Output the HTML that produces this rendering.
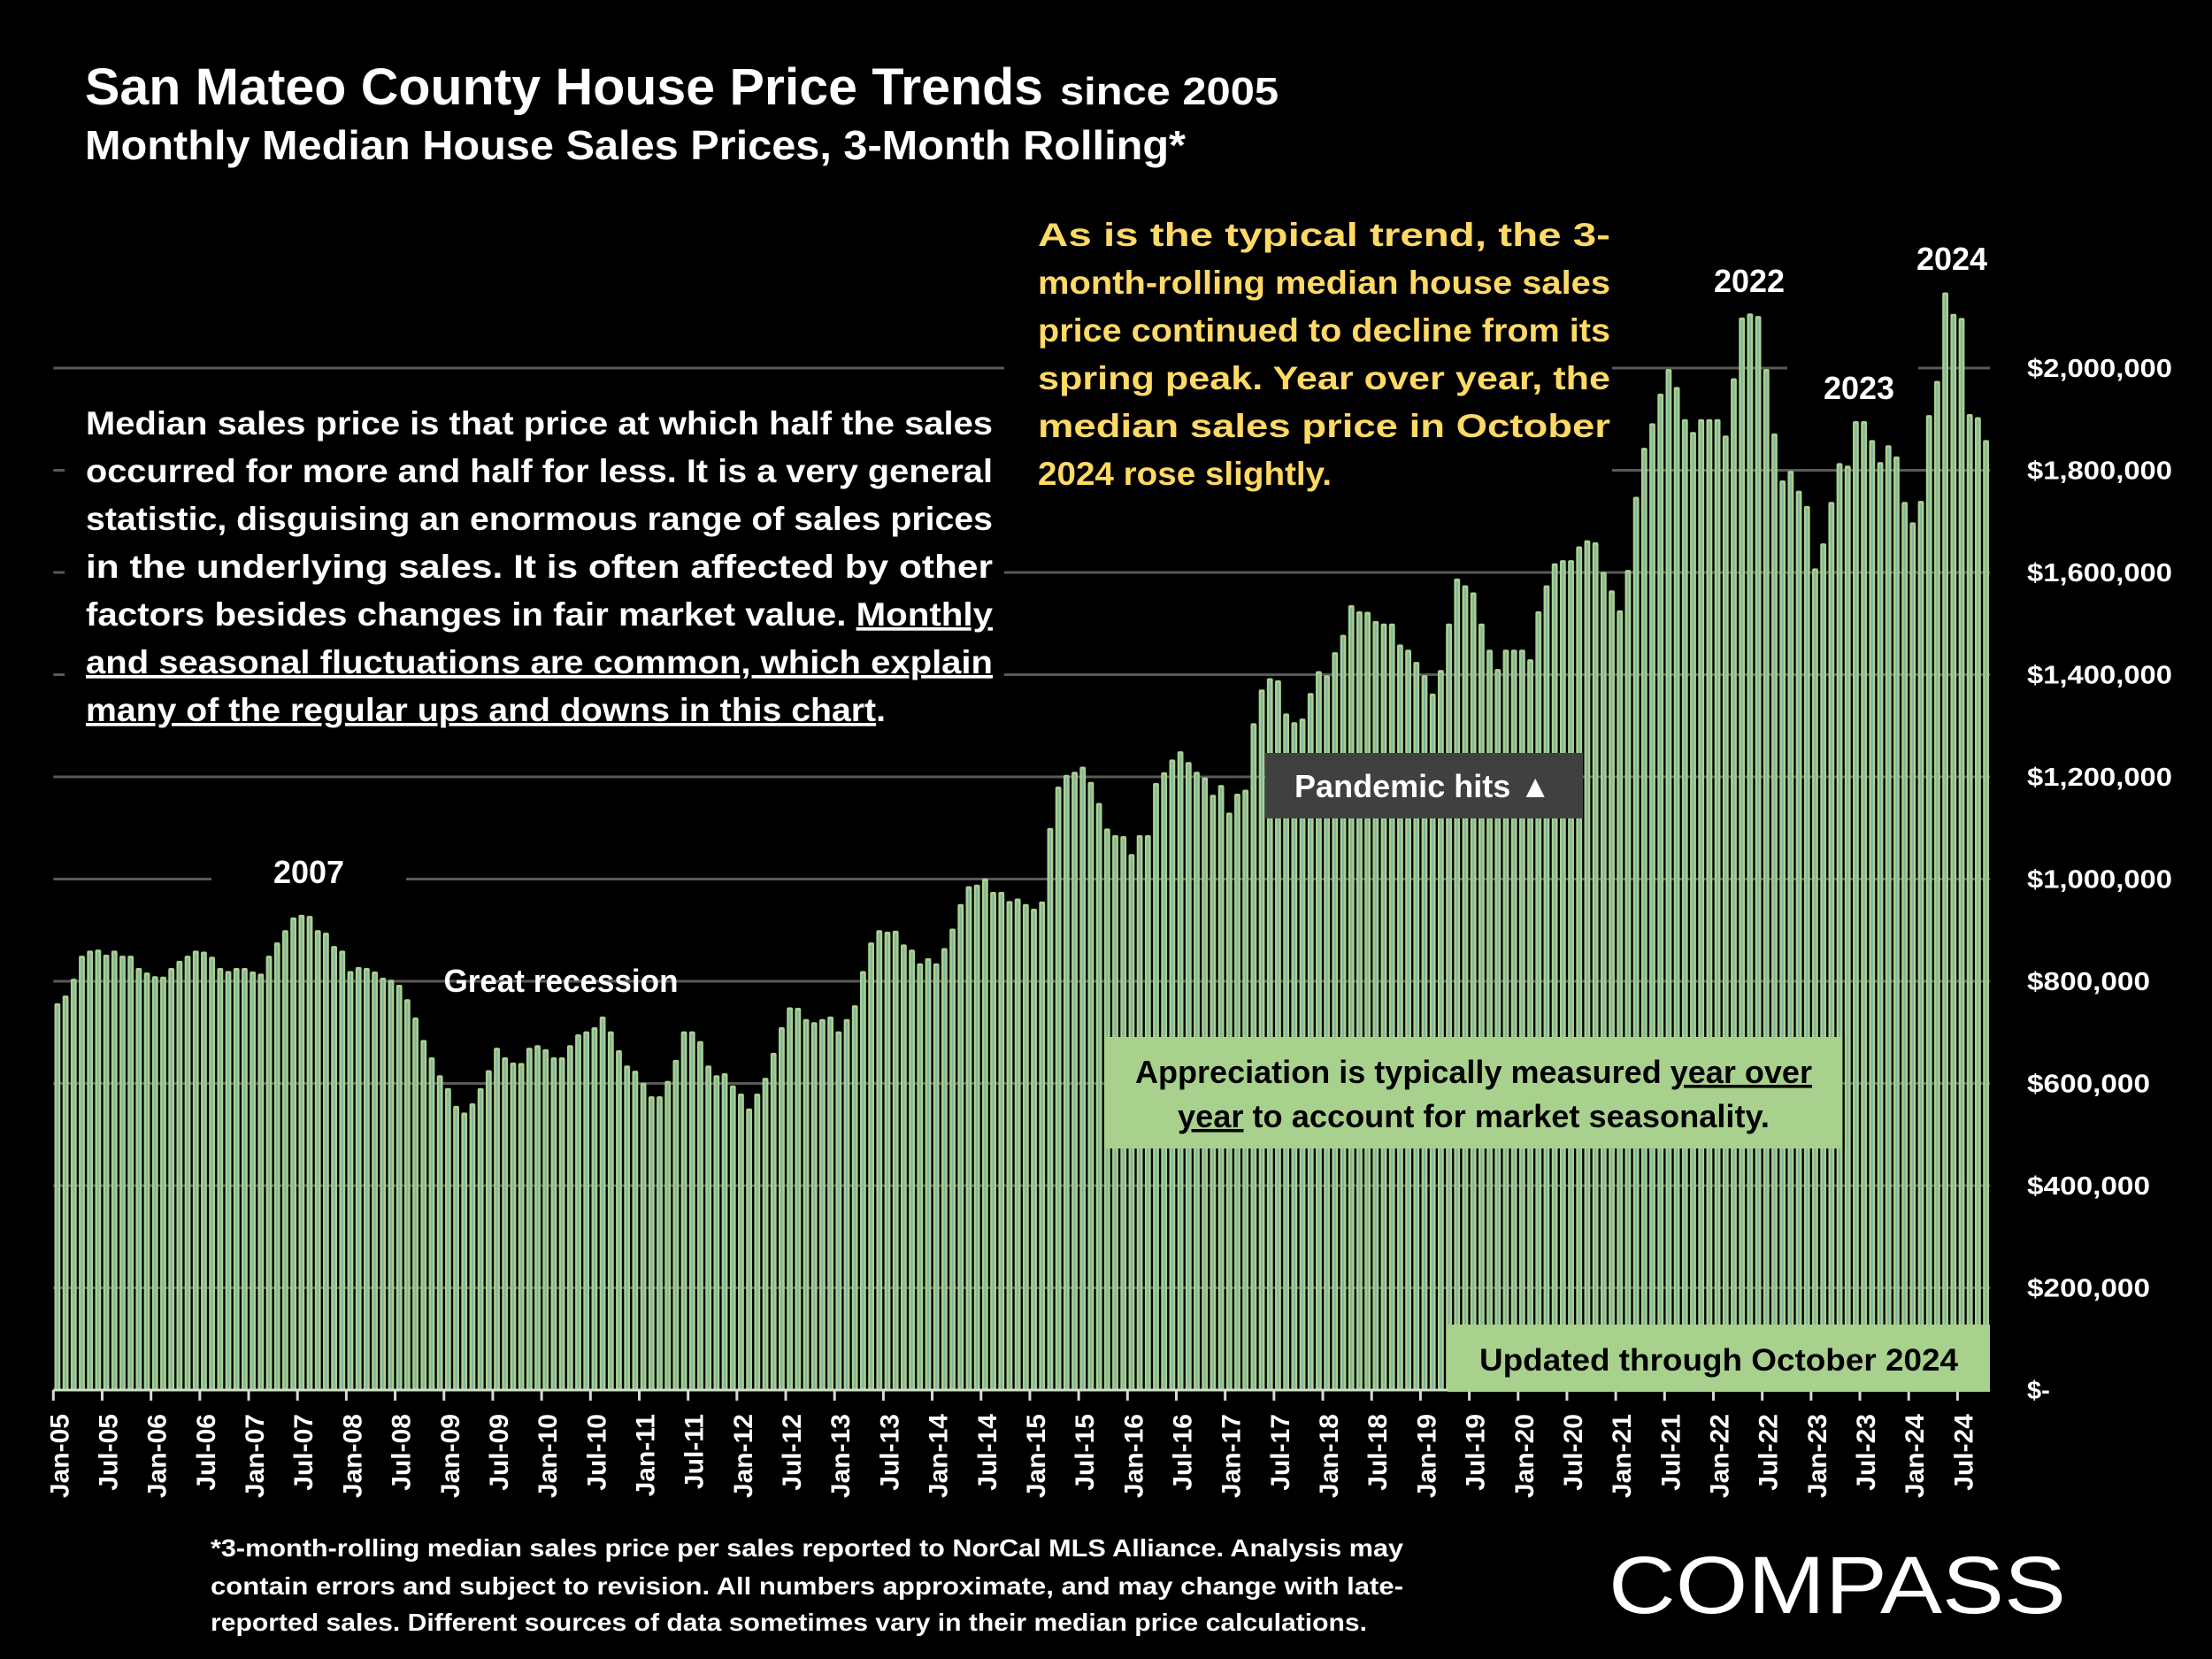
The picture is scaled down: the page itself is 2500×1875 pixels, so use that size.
<!DOCTYPE html>
<html><head><meta charset="utf-8"><style>
html,body{margin:0;padding:0;background:#000;}
svg{display:block;}
text{font-family:"Liberation Sans",sans-serif;font-weight:bold;}
</style></head><body>
<svg id="chart" width="2500" height="1875" viewBox="0 0 2500 1875" xmlns="http://www.w3.org/2000/svg">
<rect x="0" y="0" width="2500" height="1875" fill="#000"/>
<g id="grid"></g>
<g id="boxes">
  <rect x="73" y="445" width="1062" height="385" fill="#000"/>
  <rect x="1135" y="235" width="687" height="325" fill="#000"/>
  <rect x="239" y="955" width="220" height="60" fill="#000"/>
  <rect x="2020" y="400" width="148" height="75" fill="#000"/>
</g>
<g id="bars"></g>
<g id="xaxis"></g>
<g id="yaxis"></g>

<g>
  <text x="96" y="118" font-size="58" fill="#fff" textLength="1083" lengthAdjust="spacingAndGlyphs">San Mateo County House Price Trends</text>
  <text x="1198" y="118" font-size="44" fill="#fff" textLength="247" lengthAdjust="spacingAndGlyphs">since 2005</text>
  <text x="96" y="180" font-size="46" fill="#fff" textLength="1244" lengthAdjust="spacingAndGlyphs">Monthly Median House Sales Prices, 3-Month Rolling*</text>
</g>

<g font-size="37" fill="#fff">
  <text x="97" y="491" textLength="1025" lengthAdjust="spacingAndGlyphs">Median sales price is that price at which half the sales</text>
  <text x="97" y="545" textLength="1025" lengthAdjust="spacingAndGlyphs">occurred for more and half for less. It is a very general</text>
  <text x="97" y="599" textLength="1025" lengthAdjust="spacingAndGlyphs">statistic, disguising an enormous range of sales prices</text>
  <text x="97" y="653" textLength="1025" lengthAdjust="spacingAndGlyphs">in the underlying sales. It is often affected by other</text>
  <text x="97" y="707" textLength="1025" lengthAdjust="spacingAndGlyphs">factors besides changes in fair market value. <tspan style="text-decoration:underline">Monthly</tspan></text>
  <text x="97" y="761" textLength="1025" lengthAdjust="spacingAndGlyphs" style="text-decoration:underline">and seasonal fluctuations are common, which explain</text>
  <text x="97" y="815" textLength="904" lengthAdjust="spacingAndGlyphs"><tspan style="text-decoration:underline">many of the regular ups and downs in this chart</tspan>.</text>
</g>

<g font-size="37" fill="#ffd966">
  <text x="1173" y="278" textLength="647" lengthAdjust="spacingAndGlyphs">As is the typical trend, the 3-</text>
  <text x="1173" y="332" textLength="647" lengthAdjust="spacingAndGlyphs">month-rolling median house sales</text>
  <text x="1173" y="386" textLength="647" lengthAdjust="spacingAndGlyphs">price continued to decline from its</text>
  <text x="1173" y="440" textLength="647" lengthAdjust="spacingAndGlyphs">spring peak. Year over year, the</text>
  <text x="1173" y="494" textLength="647" lengthAdjust="spacingAndGlyphs">median sales price in October</text>
  <text x="1173" y="548" textLength="332" lengthAdjust="spacingAndGlyphs">2024 rose slightly.</text>
</g>

<g font-size="36" fill="#fff" text-anchor="middle">
  <text x="349" y="998">2007</text>
  <text x="634" y="1121" textLength="265" lengthAdjust="spacingAndGlyphs">Great recession</text>
  <text x="1977" y="330">2022</text>
  <text x="2101" y="451">2023</text>
  <text x="2206" y="305">2024</text>
</g>

<g>
  <rect x="1430" y="851" width="359" height="74" fill="#404040"/>
  <text x="1463" y="901" font-size="36" fill="#fff" textLength="290" lengthAdjust="spacingAndGlyphs">Pandemic hits ▲</text>
</g>

<g>
  <rect x="1250" y="1172" width="830" height="126" fill="#a9d18e"/>
  <text x="1283" y="1224" font-size="36" fill="#000" textLength="765" lengthAdjust="spacingAndGlyphs">Appreciation is typically measured <tspan style="text-decoration:underline">year over</tspan></text>
  <text x="1331" y="1274" font-size="36" fill="#000" textLength="669" lengthAdjust="spacingAndGlyphs"><tspan style="text-decoration:underline">year</tspan> to account for market seasonality.</text>
</g>

<g>
  <rect x="1636" y="1497" width="613" height="76" fill="#a9d18e"/>
  <text x="1672" y="1549" font-size="35" fill="#000" textLength="541" lengthAdjust="spacingAndGlyphs">Updated through October 2024</text>
</g>

<g font-size="28" fill="#fff">
  <text x="238" y="1759" textLength="1348" lengthAdjust="spacingAndGlyphs">*3-month-rolling median sales price per sales reported to NorCal MLS Alliance. Analysis may</text>
  <text x="238" y="1802" textLength="1348" lengthAdjust="spacingAndGlyphs">contain errors and subject to revision. All numbers approximate, and may change with late-</text>
  <text x="238" y="1843" textLength="1307" lengthAdjust="spacingAndGlyphs">reported sales. Different sources of data sometimes vary in their median price calculations.</text>
</g>

<g>
  <text x="1818" y="1823" font-size="92" fill="#fff" style="font-weight:normal" textLength="517" lengthAdjust="spacingAndGlyphs">COMPASS</text>
</g>
</svg>
<script>
// Monthly 3-month rolling median, thousands of dollars, Jan-05 .. Oct-24
var values = [
757,772,805,850,860,862,852,860,850,850,826,817,810,809,826,840,850,860,858,848,826,820,826,826,819,815,850,876,900,925,930,928,900,895,869,860,820,828,826,819,807,803,793,765,729,
685,651,616,591,556,543,561,591,626,670,651,641,640,670,675,667,651,651,675,696,702,710,731,702,665,635,625,601,575,575,605,646,702,702,683,635,616,620,596,580,551,580,611,
660,710,749,748,726,720,726,731,702,726,753,820,876,900,897,899,872,862,835,845,835,865,903,951,986,989,1001,975,975,957,962,951,942,956,
1100,1181,1204,1210,1220,1190,1149,1099,1086,1084,1049,1086,1086,1188,1209,1234,1250,1229,1210,1199,1165,1184,1130,1167,1175,1305,1371,1393,1389,1324,1307,1314,1364,1407,1399,1444,1478,1536,1524,1523,1505,1500,1500,
1459,1449,1425,1399,1363,1409,1500,1588,1575,1561,1500,1449,1411,1449,1449,1449,1430,1524,1575,1618,1624,1624,1651,1663,1659,1601,1565,1526,1605,1748,1844,1892,1950,1998,1963,1900,1875,1900,1900,1900,1868,1980,2099,2107,
2102,1998,1872,1780,1799,1760,1730,1608,1657,1738,1814,1809,1896,1896,1859,1816,1849,1827,1738,1698,1740,1908,1975,2148,2106,2098,1910,1904,1859
];
var tickLabels = ["Jan-05","Jul-05","Jan-06","Jul-06","Jan-07","Jul-07","Jan-08","Jul-08","Jan-09","Jul-09","Jan-10","Jul-10","Jan-11","Jul-11","Jan-12","Jul-12","Jan-13","Jul-13","Jan-14","Jul-14","Jan-15","Jul-15","Jan-16","Jul-16","Jan-17","Jul-17","Jan-18","Jul-18","Jan-19","Jul-19","Jan-20","Jul-20","Jan-21","Jul-21","Jan-22","Jul-22","Jan-23","Jul-23","Jan-24","Jul-24"];
var yTicks = [0,200,400,600,800,1000,1200,1400,1600,1800,2000];
var yTickLabels = ["$-","$200,000","$400,000","$600,000","$800,000","$1,000,000","$1,200,000","$1,400,000","$1,600,000","$1,800,000","$2,000,000"];

var NS = "http://www.w3.org/2000/svg";
var X0 = 60.3, SLOT = 9.197, YB = 1571, PPK = 115.5/200;
function xPos(i){ return X0 + i*SLOT; }
function yPos(v){ return YB - v*PPK; }
function mk(tag, attrs, parent){
  var e = document.createElementNS(NS, tag);
  for (var k in attrs) e.setAttribute(k, attrs[k]);
  parent.appendChild(e);
  return e;
}
var grid = document.getElementById('grid');
var bars = document.getElementById('bars');
var xaxis = document.getElementById('xaxis');
var yaxis = document.getElementById('yaxis');
var xEnd = xPos(values.length);

yTicks.forEach(function(t, k){
  if (t > 0) {
    var gl = mk('line', {x1: X0, x2: xEnd, y1: yPos(t), y2: yPos(t), stroke: '#595959', 'stroke-width': 3}, grid);
    
    
  }
  var lb = mk('text', {x: 2291, y: yPos(t) + 10, 'font-size': 29, fill: '#fff'}, yaxis);
  lb.textContent = yTickLabels[k];
  if (yTickLabels[k].length > 2) { lb.setAttribute('textLength', yTickLabels[k].length >= 10 ? 164 : 139); lb.setAttribute('lengthAdjust', 'spacingAndGlyphs'); }
  
  
});

values.forEach(function(v, i){
  var cx = xPos(i) + SLOT/2;
  var b = mk('rect', {x: cx - 3.4, y: yPos(v), width: 6.8, height: YB - yPos(v), fill: '#a9d18e', rx: 2}, bars);
  
  
  var s = mk('rect', {x: cx - 1, y: yPos(v) + 3, width: 2, height: Math.max(0, YB - yPos(v) - 3), fill: '#80b2a4'}, bars);
  
  
});

var axl = mk('line', {x1: X0, x2: xEnd, y1: YB, y2: YB, stroke: '#d0e0c8', 'stroke-width': 3}, xaxis);


tickLabels.forEach(function(lab, k){
  var tx = xPos(k*6);
  var tk = mk('line', {x1: tx, x2: tx, y1: YB, y2: YB + 12, stroke: '#d9d9d9', 'stroke-width': 3}, xaxis);
  
  
  var t = mk('text', {transform: 'translate(' + (tx + 17) + ',1598) rotate(-90)', 'font-size': 30, fill: '#fff', 'text-anchor': 'end'}, xaxis);
  t.textContent = lab;
  
  
});
</script>
</body></html>
